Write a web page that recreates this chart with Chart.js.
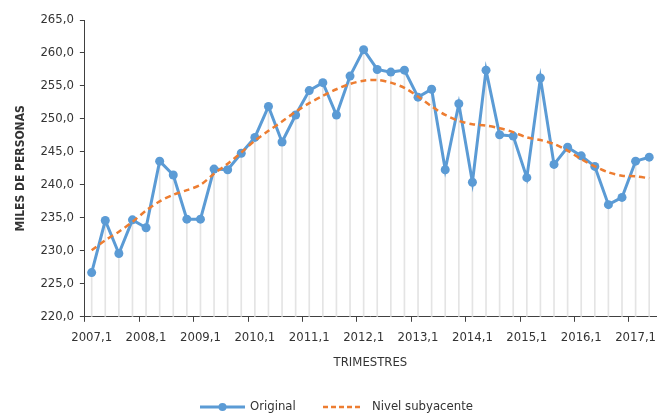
<!DOCTYPE html>
<html>
<head>
<meta charset="utf-8">
<script src="https://cdn.jsdelivr.net/npm/chart.js@4"></script>
<style>
  html, body { margin: 0; padding: 0; background: #fff; }
  #wrap { width: 661px; height: 413px; }
</style>
</head>
<body>
<div id="wrap"><canvas id="chart"></canvas></div>
<script>
const years = [2007, 2008, 2009, 2010, 2011, 2012, 2013, 2014, 2015, 2016, 2017];
const quarters = [];
years.forEach(y => [1, 2, 3, 4].forEach(q => quarters.push(y + ',' + q)));
const labels = quarters.slice(0, 42);

const original = [
  226.7, 234.6, 229.6, 234.7, 233.5, 243.6, 241.5, 234.8, 234.8, 242.4,
  242.3, 244.8, 247.2, 251.9, 246.5, 250.6, 254.3, 255.5, 250.6, 256.5,
  260.5, 257.5, 257.1, 257.4, 253.3, 254.5, 242.3, 252.3, 240.4, 257.4,
  247.6, 247.4, 241.1, 256.2, 243.1, 245.7, 244.4, 242.8, 237.0, 238.1,
  243.6, 244.2
];
const subyacente = [
  230.1, 231.6, 232.9, 234.4, 236.1, 237.5, 238.5, 239.2, 240.0, 241.7,
  243.2, 244.9, 246.7, 248.2, 249.6, 251.1, 252.4, 253.5, 254.5, 255.3,
  255.8, 255.9, 255.5, 254.7, 253.4, 251.9, 250.6, 249.7, 249.2, 249.0,
  248.6, 248.0, 247.2, 246.8, 246.2, 245.2, 243.9, 242.8, 241.9, 241.4,
  241.3, 241.0
];

const blue = '#5B9BD5';
const orange = '#ED7D31';
const textColor = '#333333';
const fontFamily = "'Liberation Sans Narrow', 'DejaVu Sans Condensed', 'Liberation Sans', sans-serif";

const fmt = v => v.toFixed(1).replace('.', ',');

// legend drawn by hand at the bottom, like the Excel one
const bottomLegend = {
  id: 'bottomLegend',
  afterDraw(chart) {
    const ctx = chart.ctx;
    const y = 407;
    ctx.save();
    ctx.font = '13px ' + fontFamily;
    ctx.fillStyle = textColor;
    ctx.textBaseline = 'middle';

    ctx.strokeStyle = blue;
    ctx.lineWidth = 3;
    ctx.beginPath();
    ctx.moveTo(200, y);
    ctx.lineTo(245, y);
    ctx.stroke();
    ctx.fillStyle = blue;
    ctx.beginPath();
    ctx.arc(222.5, y, 4, 0, Math.PI * 2);
    ctx.fill();
    ctx.fillStyle = textColor;
    ctx.fillText('Original', 250, y);

    ctx.strokeStyle = orange;
    ctx.lineWidth = 2.5;
    ctx.setLineDash([5, 3]);
    ctx.beginPath();
    ctx.moveTo(323, y);
    ctx.lineTo(362, y);
    ctx.stroke();
    ctx.setLineDash([]);
    ctx.fillText('Nivel subyacente', 372, y);
    ctx.restore();
  }
};

new Chart(document.getElementById('chart'), {
  type: 'line',
  data: {
    labels: labels,
    datasets: [
      {
        label: 'Nivel subyacente',
        data: subyacente,
        borderColor: orange,
        borderWidth: 2.5,
        borderDash: [6, 4],
        pointRadius: 0,
        fill: false,
        tension: 0.3,
        order: 0
      },
      {
        label: 'Original',
        data: original,
        borderColor: blue,
        backgroundColor: blue,
        borderWidth: 3,
        pointRadius: 4.5,
        pointBackgroundColor: blue,
        pointBorderWidth: 0,
        fill: false,
        tension: 0,
        order: 1
      },
      {
        type: 'bar',
        label: 'drop',
        data: original,
        backgroundColor: '#e4e4e4',
        barThickness: 1,
        order: 2
      }
    ]
  },
  options: {
    responsive: true,
    maintainAspectRatio: false,
    animation: false,
    layout: {
      padding: { left: 14, right: 5, top: 20, bottom: 43 }
    },
    scales: {
      x: {
        offset: true,
        grid: {
          offset: true,
          drawOnChartArea: false,
          drawTicks: true,
          tickLength: 5,
          color: ctx => (ctx.index % 4 === 0 ? '#404040' : 'rgba(0,0,0,0)')
        },
        border: { color: '#404040', width: 1 },
        ticks: {
          autoSkip: false,
          maxRotation: 0,
          color: textColor,
          font: { family: fontFamily, size: 13 },
          padding: 8,
          callback: function(value, index) {
            return index % 4 === 0 ? this.getLabelForValue(value) : '';
          }
        },
        title: {
          display: true,
          text: 'TRIMESTRES',
          color: textColor,
          font: { family: fontFamily, size: 13 },
          padding: { top: 1, bottom: 0 }
        }
      },
      y: {
        min: 220,
        max: 265,
        grid: {
          drawOnChartArea: false,
          drawTicks: true,
          tickLength: 5,
          color: '#404040'
        },
        border: { color: '#404040', width: 1 },
        ticks: {
          stepSize: 5,
          color: textColor,
          font: { family: fontFamily, size: 13 },
          padding: 6,
          callback: v => fmt(v)
        },
        title: {
          display: true,
          text: 'MILES DE PERSONAS',
          color: textColor,
          font: { family: fontFamily, size: 12, weight: 'bold' },
          padding: { top: 0, bottom: 6 }
        }
      }
    },
    plugins: {
      legend: { display: false },
      tooltip: { enabled: false }
    }
  },
  plugins: [bottomLegend]
});
</script>
</body>
</html>
